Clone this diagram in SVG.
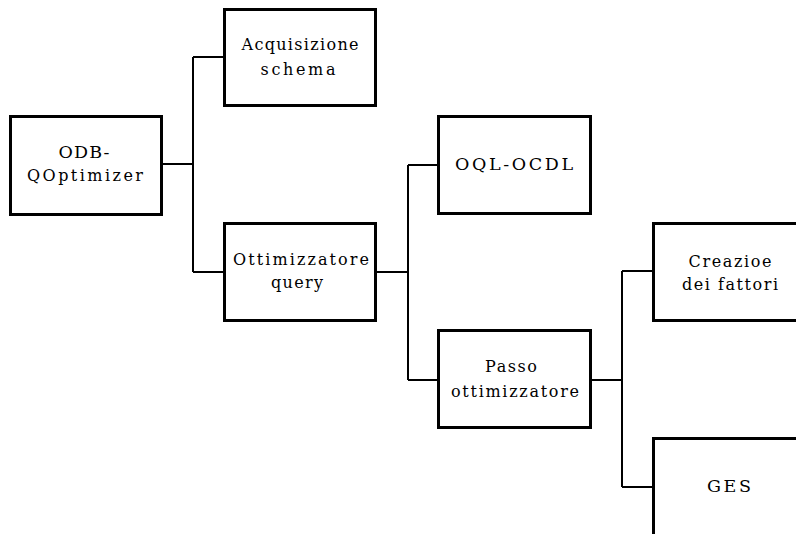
<svg xmlns="http://www.w3.org/2000/svg" width="796" height="534" viewBox="0 0 796 534">
  <style>
    .box { fill: #fff; stroke: #000; stroke-width: 3; }
    .wire { fill: none; stroke: #000; stroke-width: 2; }
    text { font-family: "DejaVu Serif", "Liberation Serif", serif; font-size: 16px; fill: #000; text-anchor: middle; }
    text.caps { font-size: 17.5px; }
  </style>
  <rect width="796" height="534" fill="#fff"/>

  <g id="connectors">
    <path class="wire" d="M162 164 H193 M193 57 V272 M193 57 H224 M193 272 H224"/>
    <path class="wire" d="M376 272 H408 M408 165 V380 M408 165 H438 M408 380 H438"/>
    <path class="wire" d="M591 380 H622 M622 271 V487 M622 271 H653 M622 487 H653"/>
  </g>

  <g id="odb-qoptimizer">
    <rect class="box" x="10.5" y="116.5" width="151" height="98"/>
    <text class="caps" x="84" y="158" textLength="51" lengthAdjust="spacing">ODB-</text>
    <text x="85" y="181" textLength="116" lengthAdjust="spacing">QOptimizer</text>
  </g>

  <g id="acquisizione-schema">
    <rect class="box" x="224.5" y="9.5" width="151" height="96"/>
    <text x="300" y="50" textLength="117" lengthAdjust="spacing">Acquisizione</text>
    <text x="298" y="75" textLength="75" lengthAdjust="spacing">schema</text>
  </g>

  <g id="ottimizzatore-query">
    <rect class="box" x="224.5" y="223.5" width="151" height="97"/>
    <text x="301" y="265" textLength="136" lengthAdjust="spacing">Ottimizzatore</text>
    <text x="297" y="288" textLength="52" lengthAdjust="spacing">query</text>
  </g>

  <g id="oql-ocdl">
    <rect class="box" x="438.5" y="116.5" width="152" height="97"/>
    <text class="caps" x="514" y="170" textLength="118" lengthAdjust="spacing">OQL-OCDL</text>
  </g>

  <g id="passo-ottimizzatore">
    <rect class="box" x="438.5" y="330.5" width="152" height="97"/>
    <text x="511" y="372" textLength="52" lengthAdjust="spacing">Passo</text>
    <text x="515" y="397" textLength="128" lengthAdjust="spacing">ottimizzatore</text>
  </g>

  <g id="creazione-fattori">
    <path class="box" d="M800 223.5 H653.5 V320.5 H800"/>
    <text x="730" y="267" textLength="83" lengthAdjust="spacing">Creazioe</text>
    <text x="730" y="290" textLength="96" lengthAdjust="spacing">dei fattori</text>
  </g>

  <g id="ges">
    <path class="box" d="M800 438.5 H653.5 V540"/>
    <text class="caps" x="729" y="492" textLength="44" lengthAdjust="spacing">GES</text>
  </g>
</svg>
